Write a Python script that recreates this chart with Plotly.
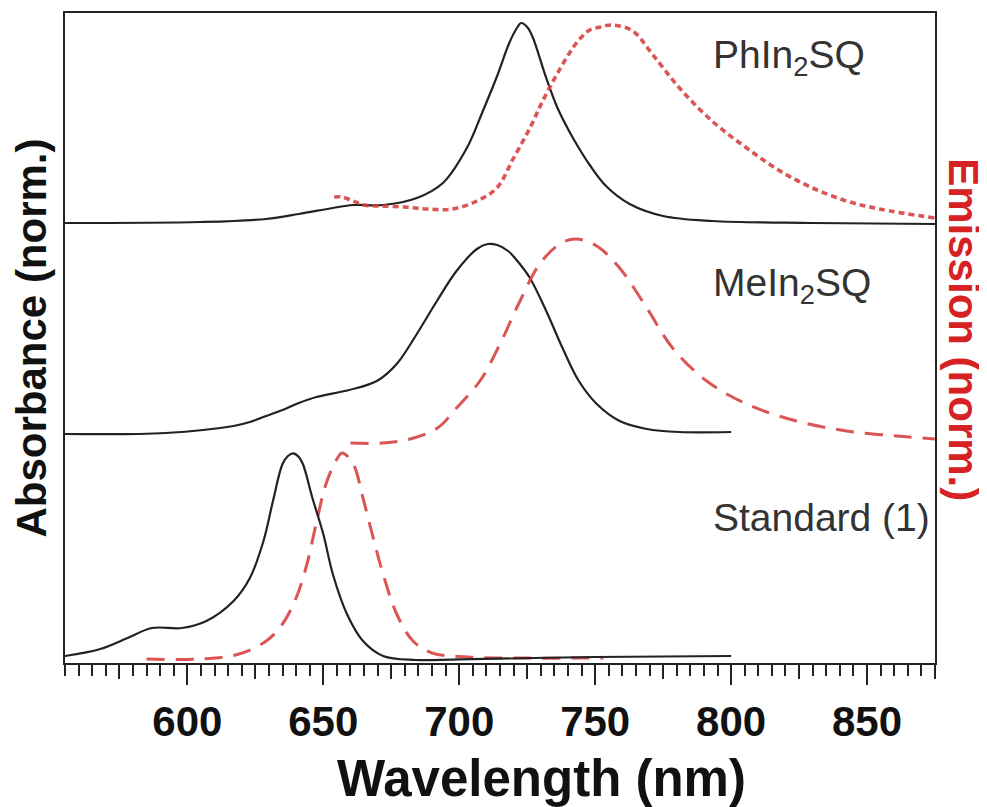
import plotly.graph_objects as go

# ---------------- data ----------------
# Absorbance spectra (stacked, normalised units)
std_abs_x = [555, 568, 578, 587, 598, 607, 617, 623, 628, 631.5, 635, 637, 639, 641, 642.5,
             646, 650, 653.5, 658.7, 664.6, 672, 684, 700, 750, 800]
std_abs_y = [0.035, 0.07, 0.125, 0.175, 0.175, 0.21, 0.31, 0.425, 0.61, 0.81, 0.995, 1.035, 1.048, 1.03, 0.995,
             0.825, 0.645, 0.445, 0.245, 0.11, 0.035, 0.015, 0.018, 0.03, 0.035]

me_abs_x = [555, 592, 617, 623, 629, 635, 641, 647.5, 659.5, 669.7, 677, 684.4, 691.8, 699, 706.5, 710.5,
            714, 718, 722, 726, 732, 738, 744, 750.6, 759, 769, 781, 800]
me_abs_y = [1.145, 1.15, 1.185, 1.205, 1.235, 1.265, 1.3, 1.33, 1.365, 1.41, 1.495, 1.645, 1.81, 1.96, 2.07, 2.095,
            2.09, 2.06, 2.0, 1.925, 1.76, 1.575, 1.41, 1.295, 1.21, 1.17, 1.155, 1.155]

ph_abs_x = [555, 605, 629, 641, 653.5, 661, 672, 684.4, 694, 702.8, 708.7, 713.8, 718.4, 721, 722.8, 725, 727,
            732, 736, 740, 744, 748, 754, 762.7, 775, 793, 830, 875]
ph_abs_y = [2.2, 2.205, 2.22, 2.245, 2.275, 2.29, 2.29, 2.325, 2.4, 2.575, 2.76, 2.93, 3.1, 3.17, 3.2, 3.18, 3.13,
            2.925, 2.78, 2.67, 2.575, 2.49, 2.385, 2.295, 2.235, 2.21, 2.2, 2.195]

# Emission spectra (stacked, normalised units)
std_em_x = [585, 605, 619, 629, 635, 640, 644, 647.6, 651, 655, 657, 661, 664.6, 668, 672, 677, 683, 690,
            703, 720, 753]
std_em_y = [0.02, 0.02, 0.045, 0.11, 0.195, 0.325, 0.495, 0.71, 0.895, 1.02, 1.05, 0.995, 0.825, 0.645,
            0.445, 0.245, 0.11, 0.05, 0.03, 0.025, 0.025]

me_em_x = [660, 672, 682, 692, 699, 707.6, 715, 722, 729.6, 737, 743, 750.6, 759, 769, 778.5, 791, 805.7,
           824, 842.5, 861, 875]
me_em_y = [1.1, 1.1, 1.12, 1.175, 1.275, 1.41, 1.595, 1.8, 1.995, 2.095, 2.12, 2.085, 1.975, 1.775, 1.575,
           1.41, 1.295, 1.21, 1.16, 1.135, 1.12]

ph_em_x = [654, 657, 661, 665, 671, 680, 688, 697.6, 706.5, 713.8, 720, 726, 730.7, 736, 742, 745, 748, 752,
           756.5, 763.8, 771, 781, 793, 805.7, 818, 830, 842.5, 854.6, 875]
ph_em_y = [2.33, 2.33, 2.31, 2.29, 2.285, 2.28, 2.27, 2.27, 2.31, 2.375, 2.525, 2.675, 2.81, 2.945, 3.08, 3.13,
           3.165, 3.18, 3.19, 3.16, 3.045, 2.875, 2.71, 2.575, 2.46, 2.375, 2.31, 2.27, 2.225]

# Labels of the stacked spectra
sample_names = ["PhIn<sub>2</sub>SQ", "MeIn<sub>2</sub>SQ", "Standard (1)"]
sample_label_x = [792.7, 792.7, 792.7]
sample_label_y = [3.03, 1.89, 0.73]

x_range = [555, 875]
y_range = [0, 3.25]
major_ticks = [600, 650, 700, 750, 800, 850]
mid_ticks = [575, 625, 675, 725, 775, 825, 875]

# ---------------- figure ----------------
BLACK = "#222222"
RED_LINE = "rgba(214,62,62,0.88)"
RED_TEXT = "rgb(214,34,34)"
FONT = "Liberation Sans, Arial, Helvetica, sans-serif"

fig = go.Figure()

abs_line = dict(color=BLACK, width=2.2, shape="spline", smoothing=1.0)
fig.add_trace(go.Scatter(x=ph_abs_x, y=ph_abs_y, mode="lines", line=abs_line, name="PhIn2SQ abs."))
fig.add_trace(go.Scatter(x=me_abs_x, y=me_abs_y, mode="lines", line=abs_line, name="MeIn2SQ abs."))

fig.add_trace(go.Scatter(x=ph_em_x, y=ph_em_y, mode="lines", yaxis="y2", name="PhIn2SQ em.",
                         line=dict(color=RED_LINE, width=3.6, dash="6px,4px", shape="spline", smoothing=1.0)))
fig.add_trace(go.Scatter(x=me_em_x, y=me_em_y, mode="lines", yaxis="y2", name="MeIn2SQ em.",
                         line=dict(color=RED_LINE, width=3, dash="18px,11px", shape="spline", smoothing=1.0)))
fig.add_trace(go.Scatter(x=std_em_x, y=std_em_y, mode="lines", yaxis="y2", name="Standard em.",
                         line=dict(color=RED_LINE, width=3, dash="18px,11px", shape="spline", smoothing=1.0)))

# standard absorbance drawn on an overlaid x axis that carries the 25-nm ticks
fig.add_trace(go.Scatter(x=std_abs_x, y=std_abs_y, mode="lines", line=abs_line, name="Standard abs.",
                         xaxis="x3"))

for name, lx, ly in zip(sample_names, sample_label_x, sample_label_y):
    fig.add_annotation(x=lx, y=ly, xref="x", yref="y", text=name, showarrow=False,
                       xanchor="left", yanchor="middle",
                       font=dict(family=FONT, size=39, color="#333333"))

# axis titles (the x title sits right of centre in the reference, the right one reads downwards)
fig.add_annotation(x=0.548, y=-0.1777, xref="paper", yref="paper", text="Wavelength (nm)",
                   showarrow=False, xanchor="center", yanchor="middle",
                   font=dict(family=FONT, size=51, color="#111111", weight="bold"))
fig.add_annotation(x=1.0333, y=0.512, xref="paper", yref="paper", text="Emission (norm.)",
                   showarrow=False, textangle=90, xanchor="center", yanchor="middle",
                   font=dict(family=FONT, size=42, color=RED_TEXT, weight="bold"))

# the page body adds an 8 px offset, so the figure is 8 px smaller in each direction
fig.update_layout(
    width=979, height=799,
    margin=dict(l=57, r=52, t=5, b=144, autoexpand=False),
    paper_bgcolor="white", plot_bgcolor="white",
    showlegend=False,
    font=dict(family=FONT, color=BLACK),
    xaxis=dict(
        range=x_range, tickmode="array", tickvals=major_ticks, automargin=False,
        ticks="outside", ticklen=20, tickwidth=2, tickcolor=BLACK,
        tickfont=dict(family=FONT, size=42, color="#111111", weight="bold"),
        minor=dict(dtick=5, tick0=555, ticks="outside", ticklen=11, tickwidth=1.8, tickcolor=BLACK),
        showline=True, linewidth=2.2, linecolor=BLACK, mirror=True,
        showgrid=False, zeroline=False,
    ),
    xaxis3=dict(
        range=x_range, overlaying="x", anchor="y", side="bottom", automargin=False,
        tickmode="array", tickvals=mid_ticks, ticks="outside", ticklen=15, tickwidth=2,
        tickcolor=BLACK, showticklabels=False, showline=False, showgrid=False, zeroline=False,
    ),
    yaxis=dict(
        range=y_range, showticklabels=False, ticks="", automargin=False,
        showline=True, linewidth=2.2, linecolor=BLACK, mirror=True,
        showgrid=False, zeroline=False,
        title=dict(text="Absorbance (norm.)", standoff=4,
                   font=dict(family=FONT, size=42, color="#111111", weight="bold")),
    ),
    yaxis2=dict(
        range=y_range, overlaying="y", side="right", showticklabels=False, ticks="",
        automargin=False, showline=False, showgrid=False, zeroline=False,
    ),
)

fig.write_html("out.html")
